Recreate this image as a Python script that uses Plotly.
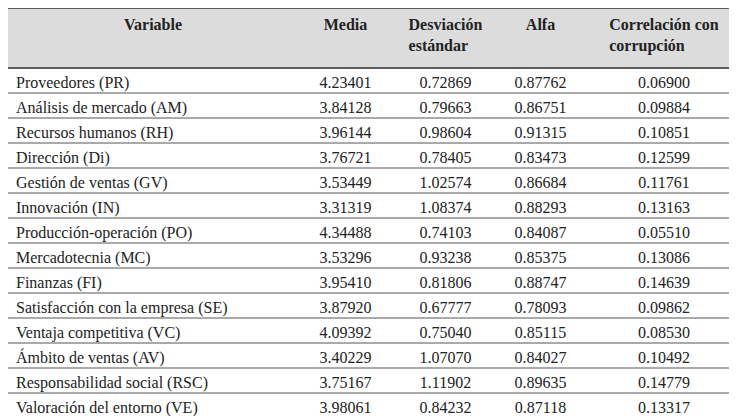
import plotly.graph_objects as go

headers = ["<b>Variable</b>", "<b>Media</b>", "<b>Desviación<br>estándar</b>", "<b>Alfa</b>", "<b>Correlación con<br>corrupción</b>"]
variables = ["Proveedores (PR)", "Análisis de mercado (AM)", "Recursos humanos (RH)", "Dirección (Di)",
             "Gestión de ventas (GV)", "Innovación (IN)", "Producción-operación (PO)", "Mercadotecnia (MC)",
             "Finanzas (FI)", "Satisfacción con la empresa (SE)", "Ventaja competitiva (VC)",
             "Ámbito de ventas (AV)", "Responsabilidad social (RSC)", "Valoración del entorno (VE)"]
media = ["4.23401", "3.84128", "3.96144", "3.76721", "3.53449", "3.31319", "4.34488", "3.53296",
         "3.95410", "3.87920", "4.09392", "3.40229", "3.75167", "3.98061"]
desv = ["0.72869", "0.79663", "0.98604", "0.78405", "1.02574", "1.08374", "0.74103", "0.93238",
        "0.81806", "0.67777", "0.75040", "1.07070", "1.11902", "0.84232"]
alfa = ["0.87762", "0.86751", "0.91315", "0.83473", "0.86684", "0.88293", "0.84087", "0.85375",
        "0.88747", "0.78093", "0.85115", "0.84027", "0.89635", "0.87118"]
corr = ["0.06900", "0.09884", "0.10851", "0.12599", "0.11761", "0.13163", "0.05510", "0.13086",
        "0.14639", "0.09862", "0.08530", "0.10492", "0.14779", "0.13317"]

W, H = 737, 416
OFF = 0
HH, CH = 60, 25
font = "Liberation Serif, Times New Roman, DejaVu Serif, serif"

fig = go.Figure(go.Table(
    columnwidth=[290, 95, 105, 85, 162],
    header=dict(values=headers, fill_color="#dcdcdc", line_color="#dcdcdc", height=HH,
                align=["center"] * 5, font=dict(family=font, size=16, color="#222")),
    cells=dict(values=[variables, media, desv, alfa, corr], fill_color="white", line_color="white",
               height=CH, align=["left", "center", "center", "center", "center"],
               font=dict(family=font, size=16, color="#222")),
    domain=dict(x=[0, 1], y=[0, 1]),
))

shapes = []
ys = [0, HH] + [HH + CH * (i + 1) for i in range(len(variables))]
for k, yp in enumerate(ys):
    shapes.append(dict(type="line", xref="paper", yref="paper", x0=0, x1=1,
                       y0=1 - (yp + OFF) / H, y1=1 - (yp + OFF) / H,
                       line=dict(color="#333" if k < 2 else "#555", width=1.5 if k < 2 else 1)))
fig.update_layout(width=W, height=H, margin=dict(l=0, r=0, t=0, b=0, pad=0), shapes=shapes,
                  paper_bgcolor="white")
fig.write_html("out.html")
